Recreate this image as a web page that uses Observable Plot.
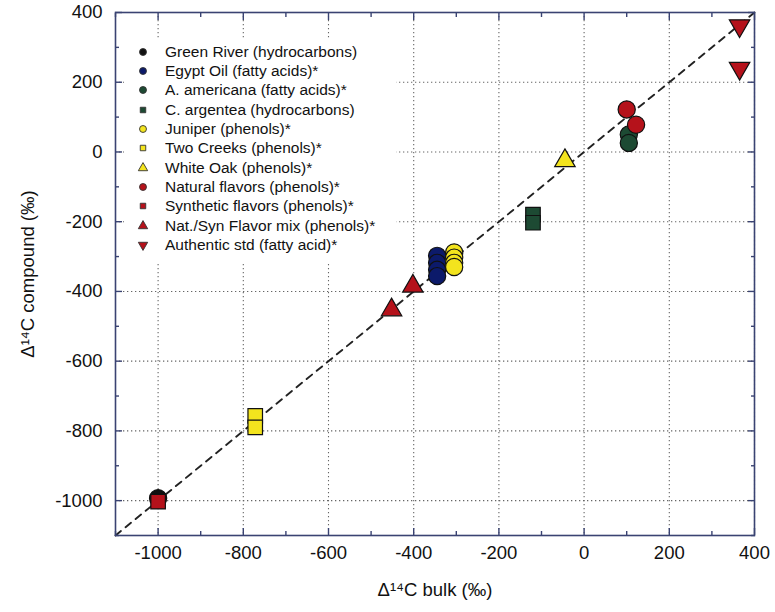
<!DOCTYPE html>
<html><head><meta charset="utf-8">
<script src="https://cdn.jsdelivr.net/npm/d3@7"></script>
<script src="https://cdn.jsdelivr.net/npm/@observablehq/plot@0.6"></script>
<style>
body{margin:0;background:#fff;font-family:"Liberation Sans",Arial,sans-serif;}
#wrap{position:relative;width:775px;height:612px;}
#legend{position:absolute;left:124px;top:38px;width:272px;padding:4px 0 8px 0;background:#fff;font-size:15.5px;color:#111;}
.row{height:19.35px;display:flex;align-items:center;white-space:nowrap;}
.row svg{width:14px;height:14px;margin-left:12px;margin-right:15px;flex:none;}
</style></head><body><div id="wrap"><div id="chart"></div><div id="legend"></div></div>
<script>
const seriesNames = [
  "Green River (hydrocarbons)",
  "Egypt Oil (fatty acids)*",
  "A. americana (fatty acids)*",
  "C. argentea (hydrocarbons)",
  "Juniper (phenols)*",
  "Two Creeks (phenols)*",
  "White Oak (phenols)*",
  "Natural flavors (phenols)*",
  "Synthetic flavors (phenols)*",
  "Nat./Syn Flavor mix (phenols)*",
  "Authentic std (fatty acid)*"
];
const seriesColors = ["#111111","#0c1a6a","#1d4a33","#1d4a33","#f3e41e","#f3e41e","#f3e41e","#b5121b","#b5121b","#b5121b","#b5121b"];
const seriesShapes = ["circle","circle","circle","square","circle","square","triangle","circle","square","triangle","triangleDown"];
const bulkValues = [
  [-1000],
  [-345,-345,-345,-345],
  [105,105],
  [-120,-120],
  [-305,-305,-305,-305],
  [-772,-772],
  [-45],
  [100,122],
  [-1000],
  [-452,-402],
  [365,365]
];
const compoundValues = [
  [-993],
  [-298,-318,-338,-356],
  [50,26],
  [-180,-203],
  [-288,-303,-318,-330],
  [-757,-790],
  [-25],
  [122,78],
  [-1003],
  [-453,-385],
  [362,240]
];
const xTicks = [-1000,-800,-600,-400,-200,0,200,400];
const yTicks = [-1000,-800,-600,-400,-200,0,200,400];
const minorTicks = [-1100,-900,-700,-500,-300,-100,100,300];
const oneToOne = [-1100, 400];
const domain = [-1100, 400];

const frameColor = "#3a4372";

const triangleDown = {
  draw(context, size) {
    const y = -Math.sqrt(size / (Math.sqrt(3) * 3));
    context.moveTo(0, -y * 2);
    context.lineTo(-Math.sqrt(3) * y, y);
    context.lineTo(Math.sqrt(3) * y, y);
    context.closePath();
  }
};
const symbolFor = s => s === "circle" ? d3.symbolCircle : s === "square" ? d3.symbolSquare : s === "triangle" ? d3.symbolTriangle : triangleDown;
const radiusFor = s => s === "circle" ? 8.6 : s === "square" ? 8.2 : 7.6;

const points = [];
seriesNames.forEach((name, i) => {
  bulkValues[i].forEach((b, j) => {
    points.push({name, bulk: b, compound: compoundValues[i][j], color: seriesColors[i], shape: seriesShapes[i]});
  });
});

const fmt = d => String(d);

const chart = Plot.plot({
  width: 775,
  height: 612,
  marginLeft: 115,
  marginRight: 21,
  marginTop: 12,
  marginBottom: 77,
  style: {fontFamily: "'Liberation Sans', Arial, sans-serif", background: "transparent", color: "#111"},
  x: {domain, label: null},
  y: {domain, label: null},
  r: {type: "identity"},
  symbol: {type: "identity"},
  marks: [
    Plot.gridX(xTicks, {stroke: "#666", strokeOpacity: 1, strokeWidth: 1.1, strokeDasharray: "1.3,2.7"}),
    Plot.gridY(yTicks, {stroke: "#666", strokeOpacity: 1, strokeWidth: 1.1, strokeDasharray: "1.3,2.7"}),
    Plot.line(oneToOne, {x: d => d, y: d => d, stroke: "#222", strokeWidth: 1.9, strokeDasharray: "7,6"}),
    Plot.dot(points, {x: "bulk", y: "compound", fill: d => d.color, symbol: d => symbolFor(d.shape), r: d => radiusFor(d.shape), stroke: "#111", strokeWidth: 1.2, sort: null}),
    Plot.frame({stroke: frameColor, strokeWidth: 1.6}),
    // inward major ticks
    Plot.axisX(xTicks, {anchor: "bottom", tickSize: -7, text: null, stroke: frameColor, strokeWidth: 1.4, label: null}),
    Plot.axisX(xTicks, {anchor: "top", tickSize: -7, text: null, stroke: frameColor, strokeWidth: 1.4, label: null}),
    Plot.axisY(yTicks, {anchor: "left", tickSize: -7, text: null, stroke: frameColor, strokeWidth: 1.4, label: null}),
    Plot.axisY(yTicks, {anchor: "right", tickSize: -7, text: null, stroke: frameColor, strokeWidth: 1.4, label: null}),
    // inward minor ticks
    Plot.axisX(minorTicks, {anchor: "bottom", tickSize: -4, text: null, stroke: frameColor, strokeWidth: 1.4, label: null}),
    Plot.axisX(minorTicks, {anchor: "top", tickSize: -4, text: null, stroke: frameColor, strokeWidth: 1.4, label: null}),
    Plot.axisY(minorTicks, {anchor: "left", tickSize: -4, text: null, stroke: frameColor, strokeWidth: 1.4, label: null}),
    Plot.axisY(minorTicks, {anchor: "right", tickSize: -4, text: null, stroke: frameColor, strokeWidth: 1.4, label: null}),
    // labels
    Plot.axisX(xTicks, {anchor: "bottom", tickSize: 0, tickPadding: 10, fontSize: 18.5, tickFormat: fmt, label: "Δ¹⁴C bulk (‰)", labelAnchor: "center", labelOffset: 60, labelArrow: "none"}),
    Plot.axisY(yTicks, {anchor: "left", tickSize: 0, tickPadding: 13, fontSize: 18.5, tickFormat: fmt, label: "Δ¹⁴C compound (‰)", labelAnchor: "center", labelOffset: 95, labelArrow: "none"})
  ]
});
document.getElementById("chart").appendChild(chart);

const legend = document.getElementById("legend");
seriesNames.forEach((name, i) => {
  const row = document.createElement("div");
  row.className = "row";
  const path = d3.symbol(symbolFor(seriesShapes[i]), seriesShapes[i] === "square" ? 30 : 38)();
  row.innerHTML = `<svg viewBox="-7 -7 14 14"><path d="${path}" fill="${seriesColors[i]}" stroke="#333" stroke-width="0.9"></path></svg><span>${name}</span>`;
  legend.appendChild(row);
});
</script>
</body></html>
